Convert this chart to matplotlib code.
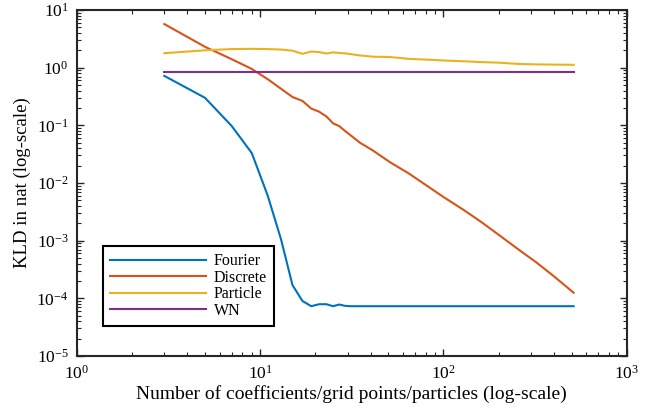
import numpy as np
import matplotlib
matplotlib.use("Agg")
import matplotlib.pyplot as plt

plt.rcParams["font.family"] = ["Liberation Serif", "DejaVu Serif"]
plt.rcParams["mathtext.fontset"] = "stix"

# data (log-log)
x_fourier = [3, 5, 7, 9, 11, 13, 15, 17, 19, 21, 23, 25, 27, 29, 31, 33,
             41, 51, 65, 81, 101, 129, 161, 201, 257, 321, 401, 513]
kld_fourier = [0.72, 0.30, 0.097, 0.033, 6.0e-3, 1.05e-3, 1.7e-4, 9.0e-5,
               7.3e-5, 7.9e-5, 7.9e-5, 7.3e-5, 7.8e-5, 7.4e-5, 7.3e-5, 7.3e-5,
               7.3e-5, 7.3e-5, 7.3e-5, 7.3e-5, 7.3e-5, 7.3e-5, 7.3e-5, 7.3e-5,
               7.3e-5, 7.3e-5, 7.3e-5, 7.3e-5]

x_grid = [3, 5, 7, 9, 11, 13, 15, 17, 19, 21, 23, 25, 27, 29, 31, 35,
          41, 51, 65, 81, 101, 129, 161, 201, 257, 321, 401, 513]
kld_discrete = [5.7, 2.3, 1.4, 0.95, 0.63, 0.43, 0.31, 0.265, 0.195, 0.172,
                0.142, 0.108, 0.097, 0.08, 0.068, 0.05, 0.037, 0.023, 0.0145,
                0.009, 0.0056, 0.0034, 0.0021, 0.00125, 7.0e-4, 4.2e-4,
                2.4e-4, 1.25e-4]
kld_particle = [1.78, 2.0, 2.1, 2.12, 2.1, 2.06, 1.97, 1.74, 1.9, 1.86,
                1.76, 1.84, 1.8, 1.77, 1.72, 1.63, 1.55, 1.53, 1.42, 1.38,
                1.33, 1.29, 1.25, 1.22, 1.16, 1.14, 1.13, 1.12]
kld_wn = [0.85] * len(x_grid)

labels = ["Fourier", "Discrete", "Particle", "WN"]
colors = ["#0072BD", "#D95319", "#EDB120", "#7E2F8E"]

fig = plt.figure(figsize=(6.57, 4.08), dpi=100)
ax = fig.add_axes([0.117, 0.1275, 0.837, 0.848])

ax.plot(x_fourier, kld_fourier, color=colors[0], lw=1.5, label=labels[0])
ax.plot(x_grid, kld_discrete, color=colors[1], lw=1.5, label=labels[1])
ax.plot(x_grid, kld_particle, color=colors[2], lw=1.5, label=labels[2])
ax.plot(x_grid, kld_wn, color=colors[3], lw=1.5, label=labels[3])

ax.set_xscale("log")
ax.set_yscale("log")
ax.set_xlim(1, 1000)
ax.set_ylim(1e-5, 10)
ax.set_yticks([10.0 ** k for k in range(-5, 2)])
ax.set_xticks([1, 10, 100, 1000])

ax.tick_params(which="both", direction="in", top=True, right=True,
               colors="#262626", labelsize=12.5, labelcolor="black")
ax.tick_params(which="major", length=5, width=1.0, pad=6)
ax.tick_params(which="minor", length=3, width=0.8)
for s in ax.spines.values():
    s.set_linewidth(1.5)
    s.set_color("#262626")

ax.set_xlabel("Number of coefficients/grid points/particles (log-scale)",
              fontsize=14, labelpad=2)
ax.set_ylabel("KLD in nat (log-scale)", fontsize=13.5, labelpad=4)

leg = ax.legend(loc="lower left", bbox_to_anchor=(0.047, 0.087),
                borderaxespad=0, fontsize=11.5,
                fancybox=False, edgecolor="black", framealpha=1,
                handlelength=6.0, labelspacing=0.03, borderpad=0.45,
                handletextpad=0.5)
leg.get_frame().set_linewidth(1.5)

fig.savefig("out.png", dpi=100)
